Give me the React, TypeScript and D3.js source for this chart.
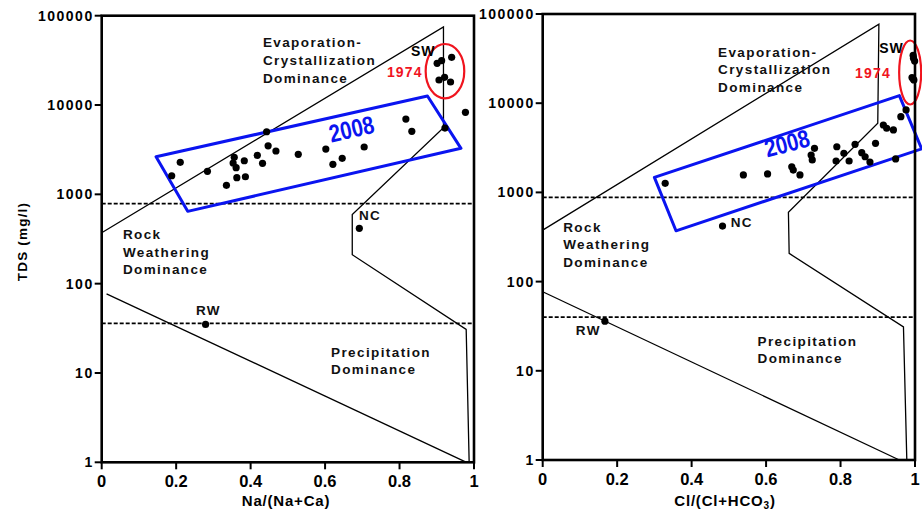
import React from 'react';
import * as d3 from 'd3';

const WIDTH = 922;
const HEIGHT = 513;
const FONT = "'Liberation Sans', Arial, sans-serif";

const xTicks = [0, 0.2, 0.4, 0.6, 0.8, 1];
const xTickLabels = ['0', '0.2', '0.4', '0.6', '0.8', '1'];
const yTicks = [1, 10, 100, 1000, 10000, 100000];
const yTickLabels = ['1', '10', '100', '1000', '10000', '100000'];

// ---- left panel: Na/(Na+Ca)
const naRatio2008 = [0.188, 0.211, 0.284, 0.335, 0.356, 0.353, 0.361, 0.363, 0.383, 0.386, 0.418, 0.432, 0.443, 0.447, 0.468, 0.528, 0.602, 0.621, 0.646, 0.705, 0.817, 0.833, 0.922, 0.977];
const naTds2008 = [1615, 2281, 1811, 1262, 2594, 2244, 1986, 1535, 2378, 1574, 2735, 2224, 5020, 3497, 3055, 2805, 3215, 2168, 2531, 3388, 6966, 5071, 5522, 8280];
const naRatio1974 = [0.901, 0.913, 0.94, 0.906, 0.921, 0.937];
const naTds1974 = [29300, 31340, 34200, 19050, 20400, 18100];
const naUpperX = [0, 0.918, 0.918, 0.673, 0.673, 0.979, 0.987];
const naUpperY = [372, 75000, 5570, 593, 211, 30.8, 1];
const naLowerX = [0.013, 0.98];
const naLowerY = [77, 1];
const naDashed = [787, 36];
const naBoxX = [0.146, 0.875, 0.965, 0.231];
const naBoxY = [2636, 12600, 3275, 645];
const naNC = [0.692, 416];
const naRW = [0.279, 35];

// ---- right panel: Cl/(Cl+HCO3)
const clRatio2008 = [0.976, 0.962, 0.915, 0.924, 0.942, 0.894, 0.948, 0.839, 0.857, 0.866, 0.879, 0.823, 0.809, 0.79, 0.788, 0.73, 0.721, 0.724, 0.669, 0.673, 0.691, 0.604, 0.539, 0.329];
const clTds2008 = [8400, 7060, 5700, 5240, 5010, 3550, 2370, 3460, 2790, 2510, 2190, 2250, 2740, 3250, 2250, 3120, 2620, 2310, 1940, 1780, 1570, 1610, 1570, 1265];
const clRatio1974 = [0.995, 0.996, 0.999, 0.992, 0.995, 0.997];
const clTds1974 = [34300, 32000, 29700, 19400, 18800, 18200];
const clUpperX = [0, 0.903, 0.9, 0.66, 0.662, 0.969, 0.978];
const clUpperY = [378, 77000, 5970, 600, 207, 31, 1];
const clLowerX = [0, 0.958];
const clLowerY = [77, 1];
const clDashed = [880, 40];
const clBoxX = [0.3, 0.958, 1.018, 0.358];
const clBoxY = [1472, 12170, 3077, 371];
const clNC = [0.483, 419];
const clRW = [0.167, 36];

const zip = (a: number[], b: number[]) => a.map((v, i) => [v, b[i]] as [number, number]);

type Label = { x: number; y: number; lines: string[]; dy: number };

function Panel(p: any) {
  const x = d3.scaleLinear().domain([0, 1]).range(p.xRange);
  const y = d3.scaleLog().domain([1, 100000]).range(p.yRange);
  const line = d3.line<[number, number]>().x(d => x(d[0])).y(d => y(d[1]));
  const boxLine = d3.line<[number, number]>().x(d => x(d[0])).y(d => y(d[1])).curve(d3.curveLinearClosed);

  const x0 = x(0), x1 = x(1), yb = y(1), yt = y(100000);

  const textBlock = (l: Label, key: string) => (
    <text key={key} x={x(l.x)} y={y(l.y)} fontFamily={FONT} fontWeight="bold" fontSize={13.5}
      style={{ letterSpacing: '1.4px' }} fill="#111">
      {l.lines.map((s, i) => (
        <tspan key={i} x={x(l.x)} dy={i === 0 ? 0 : l.dy}>{s}</tspan>
      ))}
    </text>
  );

  return (
    <g>
      <path d={line(zip(p.upperX, p.upperY)) || ''} fill="none" stroke="#000" strokeWidth={1.3} />
      <path d={line(zip(p.lowerX, p.lowerY)) || ''} fill="none" stroke="#000" strokeWidth={1.3} />
      {p.dashed.map((v: number, i: number) => (
        <line key={i} x1={x0} x2={x1} y1={y(v)} y2={y(v)} stroke="#000" strokeWidth={1.8} strokeDasharray="4,2" />
      ))}
      <path d={boxLine(zip(p.boxX, p.boxY)) || ''} fill="none" stroke="#0a14f0" strokeWidth={3} strokeLinejoin="round" />
      <ellipse cx={x(p.ellipse[0])} cy={y(p.ellipse[1])} rx={p.ellipse[2]} ry={p.ellipse[3]} fill="none" stroke="#f0141e" strokeWidth={2.2} />
      {zip(p.ratio2008, p.tds2008).map((d, i) => (
        <circle key={'a' + i} cx={x(d[0])} cy={y(d[1])} r={3.6} fill="#000" />
      ))}
      {zip(p.ratio1974, p.tds1974).map((d, i) => (
        <circle key={'b' + i} cx={x(d[0])} cy={y(d[1])} r={3.6} fill="#000" />
      ))}
      <circle cx={x(p.nc[0])} cy={y(p.nc[1])} r={3.6} fill="#000" />
      <circle cx={x(p.rw[0])} cy={y(p.rw[1])} r={3.6} fill="#000" />

      {p.labels.map((l: Label, i: number) => textBlock(l, 'l' + i))}
      <text x={x(p.sw[0])} y={y(p.sw[1])} fontFamily={FONT} fontWeight="bold" fontSize={14} style={{ letterSpacing: '0.8px' }}>SW</text>
      <text x={x(p.yr[0])} y={y(p.yr[1])} fontFamily={FONT} fontWeight="bold" fontSize={14} fill="#f0141e" style={{ letterSpacing: '1.2px' }}>1974</text>
      <text transform={`translate(${x(p.y2008[0])},${y(p.y2008[1])}) rotate(${p.y2008[2]}) scale(0.82,1)`}
        textAnchor="middle" fontFamily="'Liberation Sans Narrow', 'Arial Narrow', sans-serif" fontWeight="bold" fontSize={25} fill="#0a14f0">2008</text>

      <rect x={x0} y={yt} width={x1 - x0} height={yb - yt} fill="none" stroke="#000" strokeWidth={2.6} />
      {yTicks.map((t, i) => (
        <g key={'y' + i}>
          <line x1={x0 - 7} x2={x0} y1={y(t)} y2={y(t)} stroke="#000" strokeWidth={2} />
          <text x={x0 - 8} y={y(t) + 5} textAnchor="end" fontFamily={FONT} fontWeight="bold" fontSize={14}
            style={{ letterSpacing: '1.5px' }}>{yTickLabels[i]}</text>
        </g>
      ))}
      {xTicks.map((t, i) => (
        <g key={'x' + i}>
          <line x1={x(t)} x2={x(t)} y1={yb} y2={yb + 7} stroke="#000" strokeWidth={2} />
          <text x={x(t)} y={yb + 25} textAnchor="middle" fontFamily={FONT} fontWeight="bold" fontSize={16.5}>{xTickLabels[i]}</text>
        </g>
      ))}
      {p.title}
    </g>
  );
}

export default function App() {
  return (
    <svg width={WIDTH} height={HEIGHT} style={{ position: 'absolute', left: 0, top: 0, background: '#fff' }}>
      <rect width={WIDTH} height={HEIGHT} fill="#fff" />
      <Panel
        xRange={[101.7, 474]} yRange={[462.3, 15.7]}
        ratio2008={naRatio2008} tds2008={naTds2008} ratio1974={naRatio1974} tds1974={naTds1974}
        upperX={naUpperX} upperY={naUpperY} lowerX={naLowerX} lowerY={naLowerY}
        dashed={naDashed} boxX={naBoxX} boxY={naBoxY} nc={naNC} rw={naRW}
        ellipse={[0.922, 23900, 19.3, 27.2]}
        sw={[0.831, 35400]} yr={[0.766, 20800]} y2008={[0.676, 4325, -13]}
        labels={[
          { x: 0.433, y: 44600, lines: ['Evaporation-', 'Crystallization', 'Dominance'], dy: 18 },
          { x: 0.057, y: 316, lines: ['Rock', 'Weathering', 'Dominance'], dy: 17.5 },
          { x: 0.616, y: 15.2, lines: ['Precipitation', 'Dominance'], dy: 17.5 },
          { x: 0.691, y: 515, lines: ['NC'], dy: 0 },
          { x: 0.253, y: 44.5, lines: ['RW'], dy: 0 },
        ]}
        title={
          <g>
            <text x={286} y={506} textAnchor="middle" fontFamily={FONT} fontWeight="bold" fontSize={15}
              style={{ letterSpacing: '0.8px' }}>Na/(Na+Ca)</text>
            <text transform="translate(26.5,241.5) rotate(-90)" textAnchor="middle" fontFamily={FONT} fontWeight="bold"
              fontSize={13.5} style={{ letterSpacing: '1.2px' }}>TDS (mg/l)</text>
          </g>
        }
      />
      <Panel
        xRange={[542.7, 915]} yRange={[460, 14]}
        ratio2008={clRatio2008} tds2008={clTds2008} ratio1974={clRatio1974} tds1974={clTds1974}
        upperX={clUpperX} upperY={clUpperY} lowerX={clLowerX} lowerY={clLowerY}
        dashed={clDashed} boxX={clBoxX} boxY={clBoxY} nc={clNC} rw={clRW}
        ellipse={[0.987, 22100, 11, 32]}
        sw={[0.904, 36800]} yr={[0.839, 19300]} y2008={[0.662, 2860, -15]}
        labels={[
          { x: 0.471, y: 33000, lines: ['Evaporation-', 'Crystallization', 'Dominance'], dy: 17.5 },
          { x: 0.055, y: 360, lines: ['Rock', 'Weathering', 'Dominance'], dy: 17.5 },
          { x: 0.577, y: 19.1, lines: ['Precipitation', 'Dominance'], dy: 17 },
          { x: 0.505, y: 413, lines: ['NC'], dy: 0 },
          { x: 0.089, y: 25.2, lines: ['RW'], dy: 0 },
        ]}
        title={
          <text x={725} y={506} textAnchor="middle" fontFamily={FONT} fontWeight="bold" fontSize={15}
            style={{ letterSpacing: '0.8px' }}>
            Cl/(Cl+HCO<tspan dy={3} fontSize={10}>3</tspan><tspan dy={-3}>)</tspan>
          </text>
        }
      />
    </svg>
  );
}
